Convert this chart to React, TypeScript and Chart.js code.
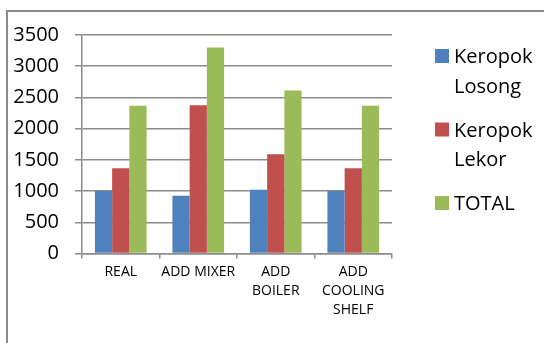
import React, { useEffect, useRef } from "react";
import { Chart, registerables } from "chart.js";

Chart.register(...registerables);

const categories: (string | string[])[] = ["REAL", "ADD MIXER", ["ADD", "BOILER"], ["ADD", "COOLING", "SHELF"]];
const losong = [1000, 925, 1020, 1000];
const lekor = [1365, 2375, 1590, 1365];
const total = [2365, 3300, 2610, 2365];
const seriesNames: string[][] = [["Keropok", "Losong"], ["Keropok", "Lekor"], ["TOTAL"]];
const seriesColors = ["#4F81BD", "#C0504D", "#9BBB59"];
const yMin = 0;
const yMax = 3500;
const yStep = 500;

const FONT = "'Open Sans', 'Noto Sans', sans-serif";

const sideLegend = {
  id: "sideLegend",
  afterDraw(chart: any) {
    const ctx = chart.ctx as CanvasRenderingContext2D;
    const area = chart.chartArea;
    const x = area.right + 43;
    const box = 14;
    const lineGap = 29.5;
    const entryGap = 14.5;
    let top = area.top + 14;
    ctx.save();
    ctx.font = `20px ${FONT}`;
    ctx.textBaseline = "alphabetic";
    ctx.textAlign = "left";
    chart.data.datasets.forEach((ds: any, i: number) => {
      ctx.fillStyle = ds.backgroundColor;
      ctx.fillRect(x, top, box, box);
      ctx.fillStyle = "#000";
      const lines = seriesNames[i];
      lines.forEach((ln, j) => {
        ctx.fillText(ln, x + box + 5, top + box + j * lineGap);
      });
      top += lines.length * lineGap + entryGap;
    });
    ctx.restore();
  },
};

export default function App() {
  const ref = useRef<HTMLCanvasElement | null>(null);
  useEffect(() => {
    if (!ref.current) return;
    const names = [seriesNames[0].join(" "), seriesNames[1].join(" "), seriesNames[2].join(" ")];
    const chart = new Chart(ref.current, {
      type: "bar",
      data: {
        labels: categories as any,
        datasets: [
          { label: names[0], data: losong, backgroundColor: seriesColors[0] },
          { label: names[1], data: lekor, backgroundColor: seriesColors[1] },
          { label: names[2], data: total, backgroundColor: seriesColors[2] },
        ],
      },
      options: {
        animation: false,
        responsive: false,
        maintainAspectRatio: false,
        layout: { padding: { top: 35, right: 152, left: 0, bottom: 0 } },
        datasets: { bar: { categoryPercentage: 0.667, barPercentage: 1, borderWidth: 0 } },
        plugins: { legend: { display: false }, tooltip: { enabled: false }, title: { display: false } },
        scales: {
          x: {
            offset: true,
            grid: { drawOnChartArea: false, drawTicks: true, tickLength: 5, offset: true, color: "#8c8c8c", lineWidth: 1.5 },
            border: { color: "#8c8c8c", width: 1.5 },
            ticks: {
              color: "#000",
              font: { family: FONT, size: 14, lineHeight: "19px" as any },
              padding: 4,
              maxRotation: 0,
              autoSkip: false,
            },
            afterFit(scale: any) {
              scale.height = 89.5;
            },
          },
          y: {
            min: yMin,
            max: yMax,
            grid: { color: "#8c8c8c", lineWidth: 1.5, tickLength: 7 },
            border: { color: "#8c8c8c", width: 1.5 },
            ticks: {
              stepSize: yStep,
              color: "#000",
              padding: 16,
              font: { family: FONT, size: 20 },
              callback: (v: any) => String(v),
            },
            afterFit(scale: any) {
              scale.width = 82;
            },
          },
        },
      },
      plugins: [sideLegend],
    });
    return () => chart.destroy();
  }, []);

  return (
    <div style={{ position: "fixed", left: 0, top: 0, width: 544, height: 343, overflow: "hidden", background: "#fff" }}>
      <div
        style={{
          position: "absolute",
          left: 6,
          top: 10,
          width: 600,
          height: 400,
          borderLeft: "2px solid #8a8a8a",
          borderTop: "2px solid #8a8a8a",
        }}
      />
      <canvas ref={ref} width={544} height={343} style={{ position: "absolute", left: 0, top: 0, width: 544, height: 343 }} />
    </div>
  );
}
